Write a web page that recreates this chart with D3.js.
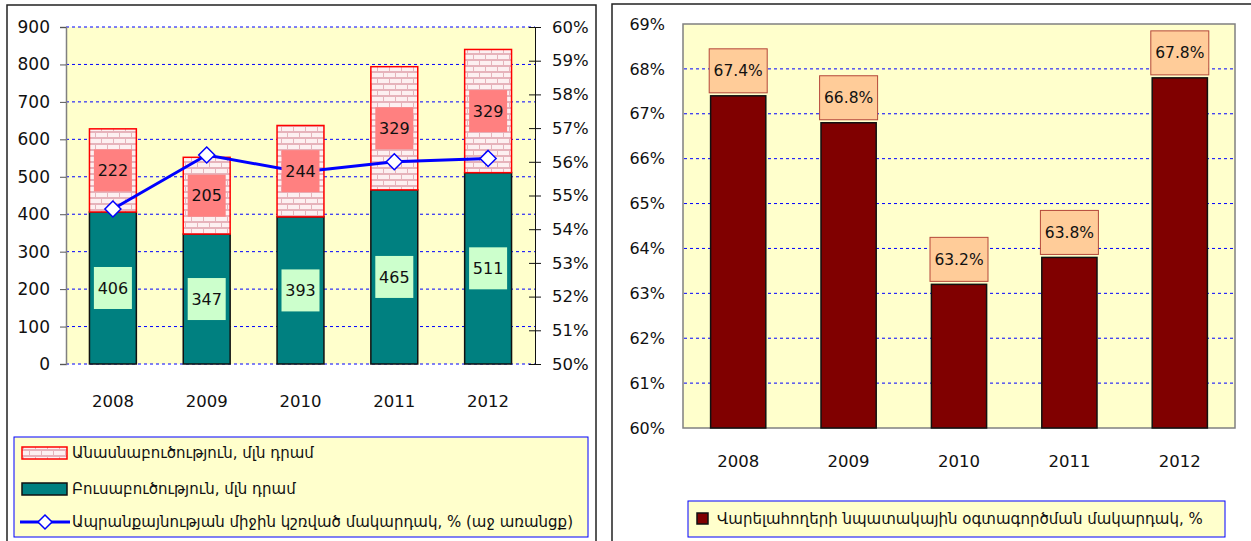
<!DOCTYPE html>
<head>
    <meta charset="utf-8">
    <title>Agriculture indicators 2008-2012</title>
</head>
<style>
    body {
        margin: 0;
        background: #fff;
    }

    svg {
        font-family: "DejaVu Sans", sans-serif;
    }

</style>
<svg width="1251" height="541"></svg>
<script src="https://d3js.org/d3.v7.min.js"></script>

<script>

    var years = ["2008", "2009", "2010", "2011", "2012"];
    var crops = [406, 347, 393, 465, 511];          // Բուսաբուծություն
    var livestock = [222, 205, 244, 329, 329];      // Անասնաբուծություն
    var marketability = [0.546, 0.562, 0.557, 0.560, 0.561];
    var landUse = [0.674, 0.668, 0.632, 0.638, 0.678];

    var leftTicks = [0, 100, 200, 300, 400, 500, 600, 700, 800, 900];
    var rightTicks = [0.50, 0.51, 0.52, 0.53, 0.54, 0.55, 0.56, 0.57, 0.58, 0.59, 0.60];
    var landTicks = [0.60, 0.61, 0.62, 0.63, 0.64, 0.65, 0.66, 0.67, 0.68, 0.69];

    var legendLeft = [
        "Անասնաբուծություն, մլն դրամ",
        "Բուսաբուծություն, մլն դրամ",
        "Ապրանքայնության միջին կշռված մակարդակ, % (աջ առանցք)"
    ];
    var legendRight = "Վարելահողերի նպատակային օգտագործման մակարդակ, %";

    var svg = d3.select("svg");
    var pct = d3.format(".0%"),
        pct1 = d3.format(".1%");

    // brick fill for the livestock series
    var defs = svg.append("defs");
    var brick = defs.append("pattern")
        .attr("id", "brick")
        .attr("patternUnits", "userSpaceOnUse")
        .attr("width", 12)
        .attr("height", 12);
    brick.append("rect").attr("width", 12).attr("height", 12).attr("fill", "#e6b3bb");
    brick.append("rect").attr("x", 0).attr("y", 1).attr("width", 11).attr("height", 4).attr("fill", "#fdf0f1");
    brick.append("rect").attr("x", -6).attr("y", 7).attr("width", 11).attr("height", 4).attr("fill", "#fdf0f1");
    brick.append("rect").attr("x", 6).attr("y", 7).attr("width", 11).attr("height", 4).attr("fill", "#fdf0f1");

    /* ---------- left chart ---------- */

    var L = svg.append("g");

    L.append("rect")
        .attr("x", 7).attr("y", 5)
        .attr("width", 589).attr("height", 560)
        .attr("fill", "#fff")
        .attr("stroke", "#222").attr("stroke-width", 1.5);

    var x = d3.scaleBand()
        .domain(years)
        .range([66, 535])
        .paddingInner(0.5)
        .paddingOuter(0.25);

    var y = d3.scaleLinear().domain([0, 900]).range([364, 27]);
    var y2 = d3.scaleLinear().domain([0.50, 0.60]).range([364, 27]);

    L.append("rect")
        .attr("x", 66).attr("y", 27)
        .attr("width", 469).attr("height", 337)
        .attr("fill", "#ffffcc");

    L.append("g").selectAll("line")
        .data(leftTicks)
        .enter().append("line")
        .attr("x1", 66).attr("x2", 535)
        .attr("y1", function(d) { return y(d); })
        .attr("y2", function(d) { return y(d); })
        .attr("stroke", "#0000ff")
        .attr("stroke-dasharray", "3,3");

    // left axis
    var axL = L.append("g")
        .attr("transform", "translate(66,0)")
        .call(d3.axisLeft(y).tickValues(leftTicks).tickSize(6).tickPadding(10));
    axL.select(".domain").attr("stroke", "#808080").attr("stroke-width", 1.5);
    axL.selectAll(".tick line").attr("stroke", "#555");
    axL.selectAll("text").attr("font-size", 17).attr("font-family", "DejaVu Sans").attr("fill", "#111");

    // right axis
    var axR = L.append("g")
        .attr("transform", "translate(535,0)")
        .call(d3.axisRight(y2).tickValues(rightTicks).tickFormat(pct).tickSizeOuter(0).tickSizeInner(6).tickPadding(11));
    axR.selectAll(".tick line").attr("x1", -6).attr("stroke", "#111");
    axR.select(".domain").attr("stroke", "#111");
    axR.selectAll("text").attr("font-size", 16.5).attr("font-family", "DejaVu Sans").attr("fill", "#111");

    // category labels
    L.append("g").selectAll("text")
        .data(years)
        .enter().append("text")
        .attr("x", function(d) { return x(d) + x.bandwidth() / 2; })
        .attr("y", 407)
        .attr("text-anchor", "middle")
        .attr("font-size", 16.5)
        .attr("fill", "#111")
        .text(function(d) { return d; });

    // stacked bars
    L.append("g").selectAll("rect")
        .data(years)
        .enter().append("rect")
        .attr("x", function(d) { return x(d); })
        .attr("width", x.bandwidth())
        .attr("y", function(d, i) { return y(crops[i]); })
        .attr("height", function(d, i) { return y(0) - y(crops[i]); })
        .attr("fill", "#008080")
        .attr("stroke", "#111")
        .attr("stroke-width", 1.5);

    L.append("g").selectAll("rect")
        .data(years)
        .enter().append("rect")
        .attr("x", function(d) { return x(d); })
        .attr("width", x.bandwidth())
        .attr("y", function(d, i) { return y(crops[i] + livestock[i]); })
        .attr("height", function(d, i) { return y(crops[i]) - y(crops[i] + livestock[i]); })
        .attr("fill", "url(#brick)")
        .attr("stroke", "#ff0000")
        .attr("stroke-width", 1.5);

    // marketability line
    var line = d3.line()
        .x(function(d, i) { return x(years[i]) + x.bandwidth() / 2; })
        .y(function(d) { return y2(d); });

    L.append("path")
        .datum(marketability)
        .attr("d", line)
        .attr("fill", "none")
        .attr("stroke", "#0000ff")
        .attr("stroke-width", 3);

    L.append("g").selectAll("path")
        .data(marketability)
        .enter().append("path")
        .attr("transform", function(d, i) { return "translate(" + (x(years[i]) + x.bandwidth() / 2) + "," + y2(d) + ")"; })
        .attr("d", "M0,-8L8,0L0,8L-8,0Z")
        .attr("fill", "#fff")
        .attr("stroke", "#0000ff")
        .attr("stroke-width", 1.5);

    // data labels
    function stackLabel(g, vals, base, fill) {
        var lab = g.append("g").selectAll("g")
            .data(vals)
            .enter().append("g")
            .attr("transform", function(d, i) {
                var b = base ? base[i] : 0;
                return "translate(" + (x(years[i]) + x.bandwidth() / 2) + "," + y(b + d / 2) + ")";
            });
        lab.append("rect")
            .attr("x", -19).attr("y", -21)
            .attr("width", 38).attr("height", 42)
            .attr("fill", fill);
        lab.append("text")
            .attr("text-anchor", "middle")
            .attr("dy", "0.36em")
            .attr("font-size", 16)
            .attr("fill", "#111")
            .text(function(d) { return d; });
    }
    stackLabel(L, crops, null, "#ccffcc");
    stackLabel(L, livestock, crops, "#ff8080");

    // legend
    var lg = L.append("g");
    lg.append("rect")
        .attr("x", 14).attr("y", 437)
        .attr("width", 574).attr("height", 100)
        .attr("fill", "#ffffcc")
        .attr("stroke", "#0000ff");

    var rows = [453, 489, 522];
    lg.append("rect")
        .attr("x", 22).attr("y", rows[0] - 6).attr("width", 45).attr("height", 12)
        .attr("fill", "url(#brick)").attr("stroke", "#ff0000").attr("stroke-width", 1.5);
    lg.append("rect")
        .attr("x", 22).attr("y", rows[1] - 6).attr("width", 45).attr("height", 12)
        .attr("fill", "#008080").attr("stroke", "#111").attr("stroke-width", 1.5);
    lg.append("line")
        .attr("x1", 20).attr("x2", 70).attr("y1", rows[2]).attr("y2", rows[2])
        .attr("stroke", "#0000ff").attr("stroke-width", 3);
    lg.append("path")
        .attr("transform", "translate(45," + rows[2] + ")")
        .attr("d", "M0,-7L7,0L0,7L-7,0Z")
        .attr("fill", "#fff").attr("stroke", "#0000ff").attr("stroke-width", 1.5);

    lg.selectAll("text")
        .data(legendLeft)
        .enter().append("text")
        .attr("x", 72)
        .attr("y", function(d, i) { return rows[i]; })
        .attr("dy", "0.36em")
        .attr("font-size", 15)
        .attr("fill", "#111")
        .text(function(d) { return d; });

    /* ---------- right chart ---------- */

    var R = svg.append("g");

    R.append("rect")
        .attr("x", 612).attr("y", 4)
        .attr("width", 645).attr("height", 560)
        .attr("fill", "#fff")
        .attr("stroke", "#222").attr("stroke-width", 1.5);

    var xr = d3.scaleBand()
        .domain(years)
        .range([683, 1235])
        .paddingInner(0.5)
        .paddingOuter(0.25);

    var yr = d3.scaleLinear().domain([0.60, 0.69]).range([428, 24]);

    R.append("rect")
        .attr("x", 683).attr("y", 24)
        .attr("width", 552).attr("height", 404)
        .attr("fill", "#ffffcc")
        .attr("stroke", "#808080").attr("stroke-width", 1.5);

    R.append("g").selectAll("line")
        .data(landTicks.slice(1, -1))
        .enter().append("line")
        .attr("x1", 684).attr("x2", 1234)
        .attr("y1", function(d) { return yr(d); })
        .attr("y2", function(d) { return yr(d); })
        .attr("stroke", "#0000ff")
        .attr("stroke-dasharray", "3,3");

    var axY = R.append("g")
        .attr("transform", "translate(683,0)")
        .call(d3.axisLeft(yr).tickValues(landTicks).tickFormat(pct).tickSize(0).tickPadding(18));
    axY.select(".domain").remove();
    axY.selectAll("text").attr("font-size", 16).attr("font-family", "DejaVu Sans").attr("fill", "#111");

    R.append("g").selectAll("text")
        .data(years)
        .enter().append("text")
        .attr("x", function(d) { return xr(d) + xr.bandwidth() / 2; })
        .attr("y", 467)
        .attr("text-anchor", "middle")
        .attr("font-size", 16.5)
        .attr("fill", "#111")
        .text(function(d) { return d; });

    R.append("g").selectAll("rect")
        .data(landUse)
        .enter().append("rect")
        .attr("x", function(d, i) { return xr(years[i]); })
        .attr("width", xr.bandwidth())
        .attr("y", function(d) { return yr(d); })
        .attr("height", function(d) { return yr(0.60) - yr(d); })
        .attr("fill", "#800000")
        .attr("stroke", "#111")
        .attr("stroke-width", 1.5);

    var rl = R.append("g").selectAll("g")
        .data(landUse)
        .enter().append("g")
        .attr("transform", function(d, i) { return "translate(" + (xr(years[i]) + xr.bandwidth() / 2) + "," + (yr(d) - 25) + ")"; });
    rl.append("rect")
        .attr("x", -29).attr("y", -22)
        .attr("width", 58).attr("height", 44)
        .attr("fill", "#ffcc99")
        .attr("stroke", "#b5473a");
    rl.append("text")
        .attr("text-anchor", "middle")
        .attr("dy", "0.36em")
        .attr("font-size", 15.5)
        .attr("fill", "#111")
        .text(function(d) { return pct1(d); });

    var rg = R.append("g");
    rg.append("rect")
        .attr("x", 688).attr("y", 501)
        .attr("width", 537).attr("height", 36)
        .attr("fill", "#ffffcc")
        .attr("stroke", "#0000ff");
    rg.append("rect")
        .attr("x", 697).attr("y", 513)
        .attr("width", 11).attr("height", 11)
        .attr("fill", "#800000").attr("stroke", "#111").attr("stroke-width", 1.5);
    rg.append("text")
        .attr("x", 717).attr("y", 519)
        .attr("dy", "0.36em")
        .attr("font-size", 15)
        .attr("fill", "#111")
        .text(legendRight);

</script>
